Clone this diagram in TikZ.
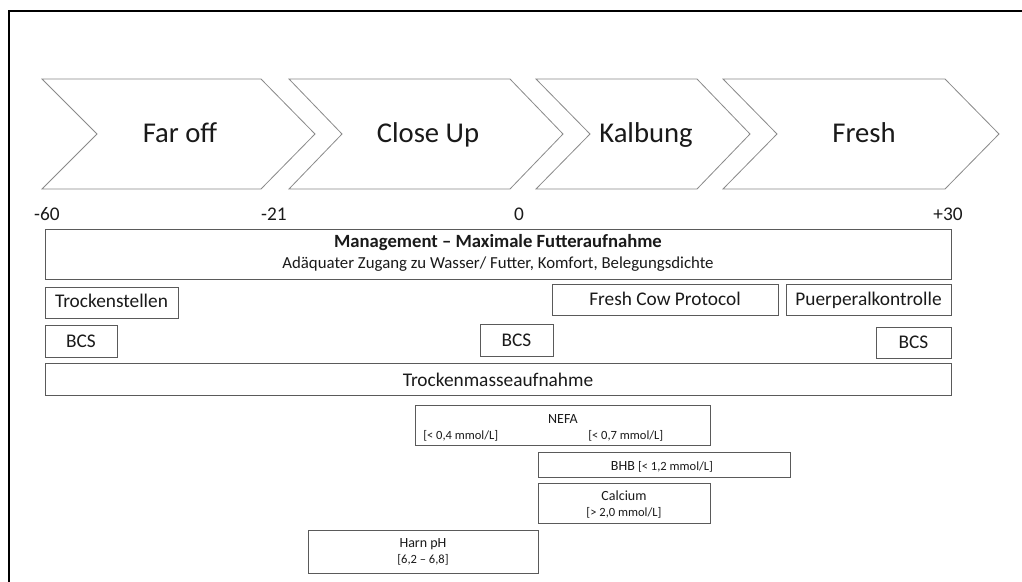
\documentclass[tikz,border=0pt]{standalone}
\usepackage{fontspec}
\setmainfont{Carlito}
\usetikzlibrary{fit}
\definecolor{chevgray}{HTML}{8A8A8A}
\definecolor{boxgray}{HTML}{5A5A5A}
\definecolor{txt}{HTML}{1A1A1A}
\begin{document}
\begin{tikzpicture}[x=0.75pt,y=-0.75pt,
  chev/.style={draw=chevgray, line width=0.6pt},
  boxst/.style={draw=boxgray, line width=0.75pt, inner sep=0pt},
  lbl/.style={text=txt, inner sep=0pt, anchor=base},
  big/.style={lbl, font=\fontsize{21.5}{24}\selectfont},
  mid/.style={lbl, font=\fontsize{14.5}{16}\selectfont},
  small/.style={lbl, font=\fontsize{9.4}{11}\selectfont},
  smallb/.style={lbl, font=\fontsize{10.5}{12}\selectfont}]
\useasboundingbox (0,0) rectangle (1022,582);
\fill[white] (0,0) rectangle (1022,582);
% frame
\draw[line width=1.6pt, black] (9,582) -- (9,11) -- (1022,11);
% chevrons
\draw[chev] (42,79) -- (261,79) -- (315,134) -- (261,189) -- (42,189) -- (97,134) -- cycle;
\draw[chev] (289,79) -- (510,79) -- (563,134) -- (510,189) -- (289,189) -- (342,134) -- cycle;
\draw[chev] (536,79) -- (697,79) -- (750,134) -- (697,189) -- (536,189) -- (590,134) -- cycle;
\draw[chev] (723,79) -- (945,79) -- (999,134) -- (945,189) -- (723,189) -- (777,134) -- cycle;
\node[big] (faroff) at (180,142) {Far off};
\node[big] (closeup) at (428,142) {Close Up};
\node[big] (kalbung) at (646,142) {Kalbung};
\node[big] (fresh) at (864,142) {Fresh};
% axis labels
\node[mid] (t60) at (47,220) {-60};
\node[mid] (t21) at (274,220) {-21};
\node[mid] (t0) at (519,220) {0};
\node[mid] (t30) at (948,220) {+30};
% boxes
\node[boxst, fit={(45,229) (951,279)}] (mgmt) {};
\node[lbl, font=\fontsize{14}{16}\selectfont\bfseries] (mgmtt) at (498,247) {Management – Maximale Futteraufnahme};
\node[lbl, font=\fontsize{12.6}{14}\selectfont] (mgmts) at (498,268) {Adäquater Zugang zu Wasser/ Futter, Komfort, Belegungsdichte};
\node[boxst, fit={(45,287) (178,318)}] (trocken) {};
\node[mid] (trockent) at (111.5,307) {Trockenstellen};
\node[boxst, fit={(552,284) (778,315)}] (fcp) {};
\node[mid] (fcpt) at (665,305) {Fresh Cow Protocol};
\node[boxst, fit={(786,284) (951,315)}] (puer) {};
\node[mid] (puert) at (868.5,305) {Puerperalkontrolle};
\node[boxst, fit={(45,325) (117,357)}] (bcs1) {};
\node[mid] (bcs1t) at (81,347) {BCS};
\node[boxst, fit={(480,324) (553,356)}] (bcs2) {};
\node[mid] (bcs2t) at (516.5,346) {BCS};
\node[boxst, fit={(876,327) (951,358)}] (bcs3) {};
\node[mid] (bcs3t) at (913.5,348) {BCS};
\node[boxst, fit={(45,363) (951,395)}] (tma) {};
\node[mid] (tmat) at (498,386) {Trockenmasseaufnahme};
% NEFA
\node[boxst, fit={(415,405) (710,445)}] (nefa) {};
\node[smallb] (nefat) at (563,423) {NEFA};
\node[small, anchor=base west] (nefa1) at (423,439) {[< 0,4 mmol/L]};
\node[small, anchor=base west] (nefa2) at (588,439) {[< 0,7 mmol/L]};
% BHB
\node[boxst, fit={(538,452) (790,477)}] (bhb) {};
\node[lbl] (bhbt) at (662,470) {\fontsize{10.5}{12}\selectfont BHB \fontsize{9.4}{11}\selectfont[< 1,2 mmol/L]};
% Calcium
\node[boxst, fit={(538,483) (710,523)}] (ca) {};
\node[smallb] (cat) at (624,500) {Calcium};
\node[small] (cas) at (624,516) {[> 2,0 mmol/L]};
% Harn pH
\node[boxst, fit={(308,530) (538,573)}] (harn) {};
\node[smallb] (harnt) at (423,547) {Harn pH};
\node[small] (harns) at (423,563) {[6,2 – 6,8]};
\end{tikzpicture}
\end{document}
